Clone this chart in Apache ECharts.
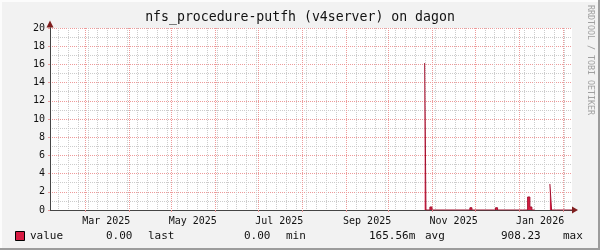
<!DOCTYPE html>
<html><head><meta charset="utf-8">
<script src="https://cdn.jsdelivr.net/npm/echarts@6/dist/echarts.min.js"></script>
<style>html,body{margin:0;padding:0;background:#f2f2f2}#c{width:600px;height:250px}</style>
</head><body><div id="c"></div>
<script>
// ---------- data ----------
const titleText = 'nfs_procedure-putfh (v4server) on dagon';
const watermark = 'RRDTOOL / TOBI OETIKER';
const xStart = '2025-02-04 08:00';
const xEnd = '2026-02-07 12:00';
const monthStarts = ['2025-02-01','2025-03-01','2025-04-01','2025-05-01','2025-06-01','2025-07-01','2025-08-01','2025-09-01','2025-10-01','2025-11-01','2025-12-01','2026-01-01','2026-02-01'];
const xLabelDates = ['2025-03-16','2025-05-16','2025-07-16','2025-09-16','2025-11-16','2026-01-16'];
const xLabels = ['Mar 2025','May 2025','Jul 2025','Sep 2025','Nov 2025','Jan 2026'];
const yMin = 0, yMax = 20, yStep = 2;
const times = ['2025-10-26 14:00','2025-10-27 12:00','2025-10-30 07:00','2025-10-31 17:00','2025-11-27 12:00','2025-11-28 22:00','2025-12-15 14:00','2025-12-17 00:00','2026-01-03 12:00','2026-01-04 14:00','2026-01-07 05:00','2026-01-08 19:00','2026-01-10 05:00','2026-01-12 07:00','2026-01-12 08:00','2026-01-22 22:00','2026-01-24 02:00','2026-01-27 17:00','2026-01-29 02:00','2026-02-07 12:00'];
const values = [16.15, 0, 0.33, 0, 0.25, 0, 0.25, 0, 0.2, 0, 1.43, 0.33, 0, 0, null, 2.86, 0, 0.15, 0, 0];
const legendName = 'value';
const legendStats = ['0.00','last','0.00','min','165.56m','avg','908.23','max'];

// ---------- helpers ----------
function ts(s){ const p=s.split(' '); const d=p[0].split('-').map(Number); const t=(p[1]||'00:00').split(':').map(Number); return Date.UTC(d[0],d[1]-1,d[2],t[0],t[1]); }
const minT = ts(xStart), maxT = ts(xEnd);
const weekTicks = [];
for (let t = ts('2025-02-03'); t <= maxT; t += 7*86400000) { if (t >= minT) weekTicks.push(t); }
const monthTicks = monthStarts.map(ts).filter(t => t >= minT && t <= maxT);
const labelTicks = xLabelDates.map(ts);
const seriesData = times.map((t,i)=>[ts(t), values[i]]);

const FONT = 'DejaVu Sans Mono';
const chart = echarts.init(document.getElementById('c'), null, {renderer:'canvas'});
const legendX = [106,148,244,286,369,425,501,563];
const graphics = [
  {type:'rect', shape:{x:0,y:0,width:600,height:2}, style:{fill:'#fcfcfc'}, silent:true},
  {type:'rect', shape:{x:0,y:0,width:2,height:250}, style:{fill:'#fcfcfc'}, silent:true},
  {type:'rect', shape:{x:0,y:248,width:600,height:2}, style:{fill:'#9c9c9c'}, silent:true},
  {type:'rect', shape:{x:598,y:0,width:2,height:250}, style:{fill:'#9c9c9c'}, silent:true},
  {type:'text', x:300, y:18, style:{text:titleText, font:'13.2px '+FONT, fill:'#111', align:'center', verticalAlign:'middle'}},
  {type:'text', x:590, y:5, rotation:-Math.PI/2, style:{text:watermark, font:'8.3px '+FONT, fill:'#a0a0a0', align:'left', verticalAlign:'middle'}},
  {type:'rect', shape:{x:15.5,y:231.5,width:9,height:9}, style:{fill:'#d81b43', stroke:'#000', lineWidth:1}},
  {type:'text', x:30, y:236, style:{text:legendName, font:'11px '+FONT, fill:'#111', align:'left', verticalAlign:'middle'}}
];
legendStats.forEach((s,i)=>graphics.push({type:'text', x:legendX[i], y:236, style:{text:s, font:'11px '+FONT, fill:'#111', align:'left', verticalAlign:'middle'}}));

chart.setOption({
  animation:false,
  backgroundColor:'#f2f2f2',
  grid:{left:50, right:28, top:28, bottom:40, show:true, backgroundColor:'#ffffff', borderWidth:0, containLabel:false, outerBoundsMode:'none'},
  xAxis:[
    {type:'value', min:minT, max:maxT, position:'bottom', scale:true,
      axisLine:{show:true, onZero:false, symbol:['none','triangle'], symbolSize:[7,6], symbolOffset:[0,3], lineStyle:{color:'#7f1f1f', width:1}},
      axisTick:{show:false, customValues:weekTicks},
      axisLabel:{show:false},
      splitLine:{show:true, lineStyle:{color:'#cccccc', width:1, type:[1,1]}}},
    {type:'value', min:minT, max:maxT, position:'bottom', scale:true,
      axisLine:{show:true, onZero:false, lineStyle:{color:'#454545', width:1}},
      axisTick:{show:true, customValues:monthTicks, length:2, lineStyle:{color:'#e89a9a'}},
      axisLabel:{show:true, customValues:labelTicks, margin:6, fontFamily:FONT, fontSize:10, color:'#111',
        showMinLabel:true, showMaxLabel:true, hideOverlap:false,
        formatter:function(v){ const i = labelTicks.indexOf(v); return i>=0 ? xLabels[i] : ''; }},
      splitLine:{show:true, lineStyle:{color:'#ee9a9a', width:1, type:[1,1]}}}
  ],
  yAxis:[
    {type:'value', min:yMin, max:yMax, interval:yStep, position:'left',
      axisLine:{show:true, onZero:false, symbol:['none','triangle'], symbolSize:[7,7], symbolOffset:[0,4], lineStyle:{color:'#7f1f1f', width:1}},
      axisTick:{show:false}, axisLabel:{show:false}, splitLine:{show:false}},
    {type:'value', min:yMin, max:yMax, interval:yStep, position:'left',
      axisLine:{show:true, onZero:false, lineStyle:{color:'#454545', width:1}},
      axisTick:{show:true, length:2, lineStyle:{color:'#e89a9a'}},
      axisLabel:{show:true, margin:5, fontFamily:FONT, fontSize:10, color:'#111'},
      splitLine:{show:true, lineStyle:{color:'#ee9a9a', width:1, type:[1,1]}},
      minorTick:{show:false, splitNumber:2},
      minorSplitLine:{show:true, lineStyle:{color:'#cccccc', width:1, type:[1,1]}}}
  ],
  series:[{
    type:'line', xAxisIndex:1, yAxisIndex:1, step:'end', symbol:'none', showSymbol:false,
    connectNulls:false, data:seriesData,
    lineStyle:{color:'#a0102e', width:1},
    areaStyle:{color:'#dc1c44', opacity:1}
  }],
  graphic:graphics
});
</script></body></html>
